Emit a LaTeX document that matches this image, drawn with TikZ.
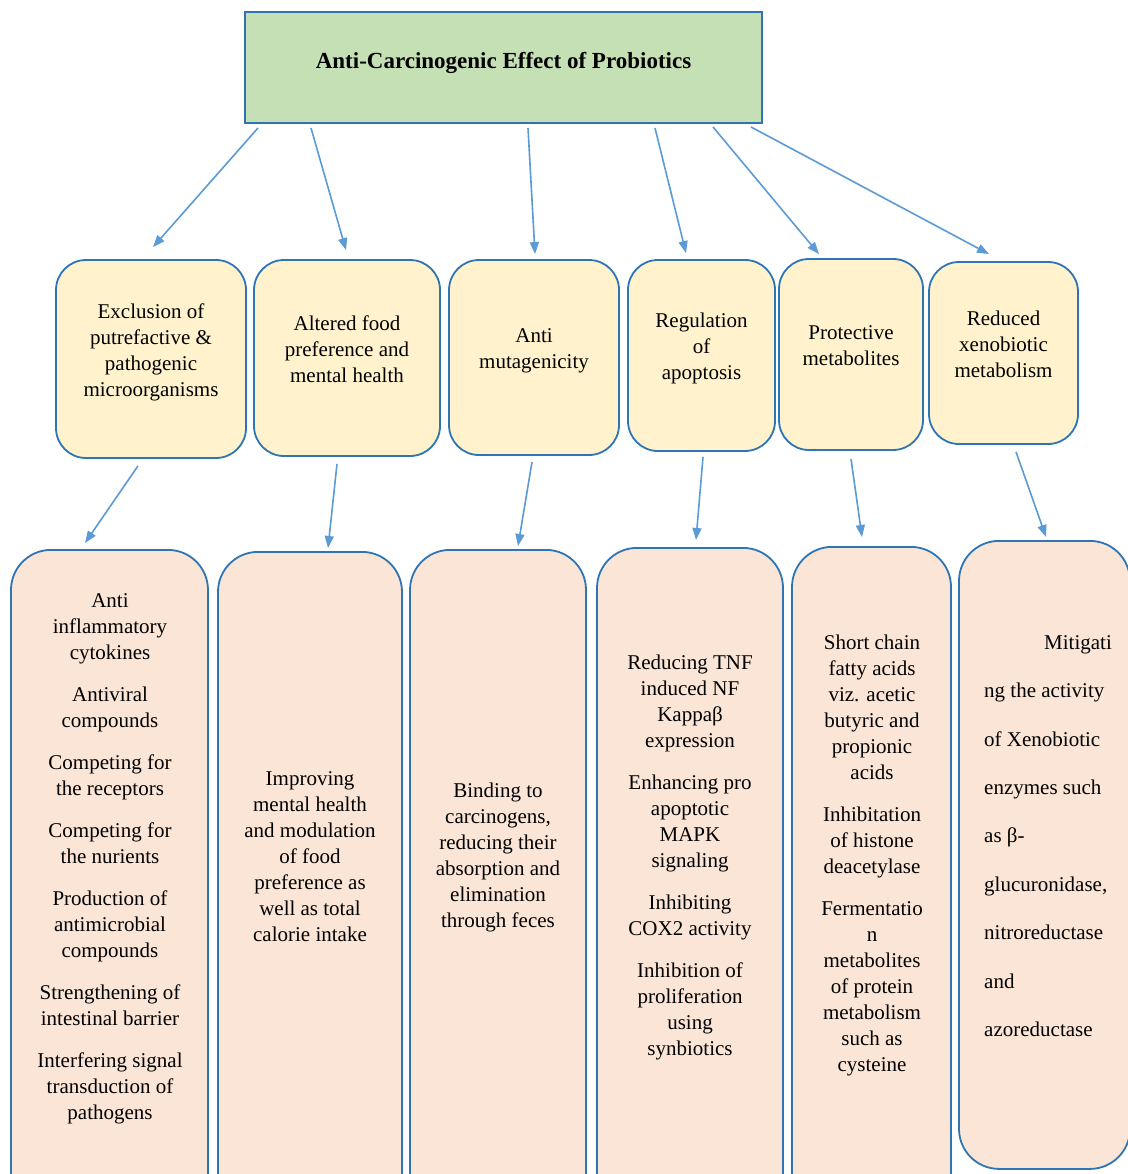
\documentclass[tikz,border=0pt]{standalone}
\usepackage{fontspec}
\setmainfont{Liberation Serif}
\usetikzlibrary{arrows.meta}
\definecolor{edgeblue}{RGB}{46,117,182}
\definecolor{arrowblue}{RGB}{91,155,213}
\definecolor{titlegreen}{RGB}{197,224,180}
\definecolor{midyellow}{RGB}{255,242,204}
\definecolor{lowpeach}{RGB}{251,229,214}

\begin{document}
\begin{tikzpicture}[
  x=1pt, y=-1pt,
  headbox/.style={draw=edgeblue, line width=2pt, fill=titlegreen,
    minimum width=517pt, minimum height=111pt, text depth=15pt,
    font=\fontsize{23}{28}\selectfont\bfseries},
  mid/.style={draw=edgeblue, line width=1.8pt, fill=midyellow,
    rounded corners=30pt, inner sep=0pt, align=center, text depth=18pt,
    font=\fontsize{21}{26}\selectfont},
  low/.style={draw=edgeblue, line width=1.8pt, fill=lowpeach,
    rounded corners=40pt, inner sep=0pt, anchor=north},
  txt/.style={align=center, inner sep=0pt, font=\fontsize{21}{26}\selectfont},
  arr/.style={-{Triangle[length=12pt,width=9pt]}, draw=arrowblue, line width=1.6pt}
]
  \path[use as bounding box, fill=white] (0,0) rectangle (1127,1174);

  % title
  \node[headbox] (head) at (503.5,67.5) {Anti-Carcinogenic Effect of Probiotics};

  % middle row
  \node[mid, minimum width=190pt, minimum height=198pt] (excl) at (151,359)
    {Exclusion of\\putrefactive \&\\pathogenic\\microorganisms};
  \node[mid, minimum width=186pt, minimum height=196pt] (food) at (347,358)
    {Altered food\\preference and\\mental health};
  \node[mid, minimum width=170pt, minimum height=195pt] (mutag) at (534,357.5)
    {Anti\\mutagenicity};
  \node[mid, minimum width=147pt, minimum height=191pt] (apop) at (701.5,355.5)
    {Regulation\\of\\apoptosis};
  \node[mid, minimum width=144pt, minimum height=191pt] (protm) at (851,354.5)
    {Protective\\metabolites};
  \node[mid, minimum width=149pt, minimum height=182pt] (xeno) at (1003.5,353)
    {Reduced\\xenobiotic\\metabolism};

  % lower row
  \node[low, minimum width=197pt, minimum height=680pt] (exclB) at (109.5,549) {};
  \node[low, minimum width=184pt, minimum height=680pt] (foodB) at (310,551) {};
  \node[low, minimum width=176pt, minimum height=680pt] (mutagB) at (498,549) {};
  \node[low, minimum width=186pt, minimum height=680pt] (apopB) at (690,547) {};
  \node[low, minimum width=159pt, minimum height=680pt] (protmB) at (871.5,546) {};
  \node[low, minimum width=171pt, minimum height=628pt] (xenoB) at (1044.5,540) {};

  \node[txt] (exclT) at (110,859) {Anti\\inflammatory\\cytokines\\[16pt]
    Antiviral\\compounds\\[16pt]Competing for\\the receptors\\[16pt]
    Competing for\\the nurients\\[16pt]Production of\\antimicrobial\\compounds\\[16pt]
    Strengthening of\\intestinal barrier\\[16pt]Interfering signal\\transduction of\\pathogens};
  \node[txt] (foodT) at (310,857) {Improving\\mental health\\and modulation\\of food\\
    preference as\\well as total\\calorie intake};
  \node[txt] (mutagT) at (498,857.5) {Binding to\\carcinogens,\\reducing their\\
    absorption and\\elimination\\through feces};
  \node[txt] (apopT) at (690,857.5) {Reducing TNF\\induced NF\\Kappaβ\\expression\\[16pt]
    Enhancing pro\\apoptotic\\MAPK\\signaling\\[16pt]Inhibiting\\COX2 activity\\[16pt]
    Inhibition of\\proliferation\\using\\synbiotics};
  \node[txt] (protmT) at (872,855) {Short chain\\fatty acids\\viz. acetic\\butyric and\\
    propionic\\acids\\[16pt]Inhibitation\\of histone\\deacetylase\\[16pt]
    Fermentatio\\n\\metabolites\\of protein\\metabolism\\such as\\cysteine};
  \node[txt, align=left, anchor=west, font=\fontsize{21}{48.4}\selectfont] (xenoT) at (984,836)
    {\hspace*{60pt}Mitigati\\ng the activity\\of Xenobiotic\\enzymes such\\as β-\\
    glucuronidase,\\nitroreductase\\and\\azoreductase};

  % arrows from the title
  \draw[arr] ([xshift=14pt,yshift=-4pt]head.south west) -- ([xshift=2pt,yshift=12pt]excl.north);
  \draw[arr] ([xshift=67pt,yshift=-4pt]head.south west) -- ([xshift=-1pt,yshift=9pt]food.north);
  \draw[arr] ([xshift=284pt,yshift=-4pt]head.south west) -- ([xshift=1pt,yshift=5pt]mutag.north);
  \draw[arr] ([xshift=411pt,yshift=-4pt]head.south west) -- ([xshift=-15.5pt,yshift=6pt]apop.north);
  \draw[arr] ([xshift=469pt,yshift=-3pt]head.south west) -- ([xshift=-32pt,yshift=4pt]protm.north);
  \draw[arr] ([xshift=507pt,yshift=-3pt]head.south west) -- ([xshift=-14.5pt,yshift=7pt]xeno.north);

  % arrows to the lower row
  \draw[arr] ([xshift=-13pt,yshift=-7pt]excl.south) -- ([xshift=-24.5pt,yshift=6pt]exclB.north);
  \draw[arr] ([xshift=-10pt,yshift=-7pt]food.south) -- ([xshift=18pt,yshift=3pt]foodB.north);
  \draw[arr] ([xshift=-2pt,yshift=-6pt]mutag.south) -- ([xshift=20pt,yshift=3pt]mutagB.north);
  \draw[arr] ([xshift=1.5pt,yshift=-5pt]apop.south) -- ([xshift=6pt,yshift=7pt]apopB.north);
  \draw[arr] ([yshift=-8pt]protm.south) -- ([xshift=-9.5pt,yshift=9pt]protmB.north);
  \draw[arr] ([xshift=12.5pt,yshift=-7pt]xeno.south) -- ([xshift=1.5pt,yshift=3pt]xenoB.north);
\end{tikzpicture}
\end{document}
